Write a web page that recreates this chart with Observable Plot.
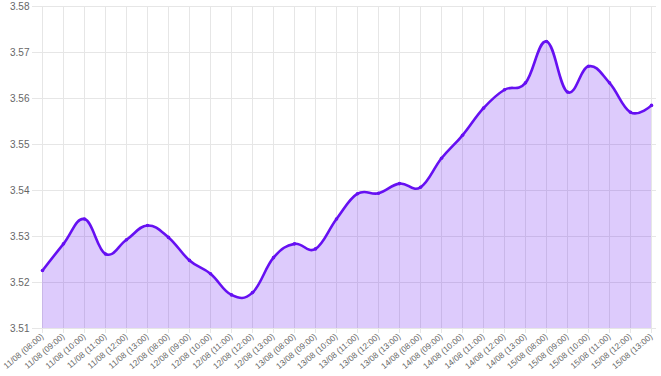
<!DOCTYPE html>
<html><head><meta charset="utf-8">
<script src="https://cdn.jsdelivr.net/npm/d3@7"></script>
<script src="https://cdn.jsdelivr.net/npm/@observablehq/plot@0.6"></script>
<style>body{margin:0;background:#fff} svg{display:block}</style>
</head><body><div id="chart"></div>
<script>
const labels = [
  "11/08 (08:00)","11/08 (09:00)","11/08 (10:00)","11/08 (11:00)","11/08 (12:00)","11/08 (13:00)",
  "12/08 (08:00)","12/08 (09:00)","12/08 (10:00)","12/08 (11:00)","12/08 (12:00)","12/08 (13:00)",
  "13/08 (08:00)","13/08 (09:00)","13/08 (10:00)","13/08 (11:00)","13/08 (12:00)","13/08 (13:00)",
  "14/08 (08:00)","14/08 (09:00)","14/08 (10:00)","14/08 (11:00)","14/08 (12:00)","14/08 (13:00)",
  "15/08 (08:00)","15/08 (09:00)","15/08 (10:00)","15/08 (11:00)","15/08 (12:00)","15/08 (13:00)"
];
const values = [
  3.5226, 3.5284, 3.5338, 3.5262, 3.5293, 3.5324,
  3.5298, 3.5248, 3.5219, 3.5173, 3.5178, 3.5254,
  3.5284, 3.5273, 3.5338, 3.5393, 3.5394, 3.5415,
  3.5407, 3.5470, 3.5520, 3.5579, 3.5619, 3.5634,
  3.5724, 3.5614, 3.5670, 3.5634, 3.5570, 3.5585
];
const yTicks = [3.51, 3.52, 3.53, 3.54, 3.55, 3.56, 3.57, 3.58];
const yMin = 3.51, yMax = 3.58;

const data = labels.map((label, i) => ({label, value: values[i]}));
const lineColor = "#6610f2";
const gridColor = "#e6e6e6";

const chart = Plot.plot({
  width: 661, height: 376,
  marginLeft: 37, marginRight: 5, marginTop: 6, marginBottom: 48,
  style: {fontFamily: "'Liberation Sans', Arial, sans-serif", fontSize: "10px", color: "#666", background: "#fff"},
  x: {type: "point", domain: labels, padding: 0, label: null},
  y: {domain: [yMin, yMax], label: null},
  marks: [
    Plot.gridY(yTicks, {stroke: gridColor, strokeOpacity: 1}),
    Plot.gridX(labels, {stroke: gridColor, strokeOpacity: 1}),
    Plot.axisY(yTicks, {tickFormat: d => d.toFixed(2), tickSize: 5, tickPadding: 3, stroke: gridColor, fill: "#666", label: null}),
    Plot.axisX(labels, {tickRotate: -40, tickSize: 5, tickPadding: 2, fontSize: 8.4, stroke: gridColor, fill: "#666", label: null}),
    Plot.areaY(data, {x: "label", y1: d => yMin, y2: "value", curve: "cardinal", tension: -0.2, fill: lineColor, fillOpacity: 0.22}),
    Plot.lineY(data, {x: "label", y: "value", curve: "cardinal", tension: -0.2, stroke: lineColor, strokeWidth: 2.6}),
    Plot.dot(data, {x: "label", y: "value", r: 1.8, fill: lineColor})
  ]
});
document.getElementById("chart").appendChild(chart);
</script>
</body></html>
